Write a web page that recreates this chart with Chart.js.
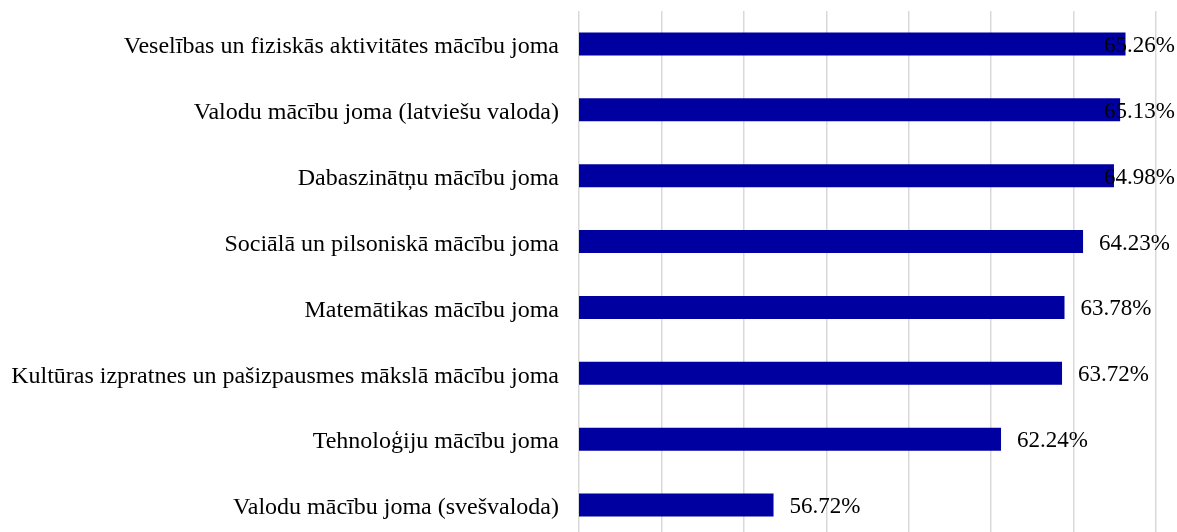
<!DOCTYPE html>
<html lang="lv">
<head>
    <meta charset="UTF-8">
    <title>Mācību jomas</title>
    <script src="https://cdn.jsdelivr.net/npm/chart.js"></script>
    <style>
        html, body { margin: 0; padding: 0; background: #fff; overflow: hidden; }
        .chart-box { position: relative; width: 1177px; height: 540px; }
    </style>
</head>
<body>
    <div class="chart-box">
        <canvas id="chart"></canvas>
    </div>

    <script>
        const categories = [
            "Veselības un fiziskās aktivitātes mācību joma",
            "Valodu mācību joma (latviešu valoda)",
            "Dabaszinātņu mācību joma",
            "Sociālā un pilsoniskā mācību joma",
            "Matemātikas mācību joma",
            "Kultūras izpratnes un pašizpausmes mākslā mācību joma",
            "Tehnoloģiju mācību joma",
            "Valodu mācību joma (svešvaloda)"
        ];
        const values = [65.26, 65.13, 64.98, 64.23, 63.78, 63.72, 62.24, 56.72];
        const axisMin = 52;
        const axisMax = 66;
        const axisStep = 2;

        const serif = "'Liberation Serif', 'Times New Roman', serif";

        // value labels next to bars, kept inside the canvas on the right
        const valueLabels = {
            id: "valueLabels",
            afterDatasetsDraw(chart) {
                const ctx = chart.ctx;
                const meta = chart.getDatasetMeta(0);
                const rightLimit = chart.width - 2;
                ctx.save();
                ctx.font = "23px " + serif;
                ctx.fillStyle = "#000";
                ctx.textAlign = "left";
                ctx.textBaseline = "middle";
                meta.data.forEach((bar, i) => {
                    const text = values[i].toFixed(2) + "%";
                    const w = ctx.measureText(text).width;
                    const x = Math.min(bar.x + 16, rightLimit - w);
                    ctx.fillText(text, x, bar.y + 2);
                });
                ctx.restore();
            }
        };

        new Chart(document.getElementById("chart"), {
            type: "bar",
            data: {
                labels: categories,
                datasets: [{
                    data: values,
                    backgroundColor: "#0000A0",
                    borderWidth: 0,
                    categoryPercentage: 1,
                    barPercentage: 0.35
                }]
            },
            options: {
                indexAxis: "y",
                responsive: true,
                maintainAspectRatio: false,
                animation: false,
                layout: { padding: { top: 11, right: 21, bottom: 2, left: 0 } },
                plugins: {
                    legend: { display: false },
                    tooltip: { enabled: false }
                },
                scales: {
                    x: {
                        min: axisMin,
                        max: axisMax,
                        ticks: { stepSize: axisStep, display: false },
                        grid: { color: "#d9d9d9", lineWidth: 1.5, drawTicks: false },
                        border: { display: false }
                    },
                    y: {
                        grid: { display: false, drawTicks: false },
                        border: { display: false },
                        ticks: {
                            color: "#000",
                            font: { family: serif, size: 24 },
                            padding: 20,
                            labelOffset: 3
                        },
                        afterFit(scale) {
                            scale.width = 579;
                            scale.paddingTop = 0;
                            scale.paddingBottom = 0;
                        }
                    }
                }
            },
            plugins: [valueLabels]
        });
    </script>
</body>
</html>
